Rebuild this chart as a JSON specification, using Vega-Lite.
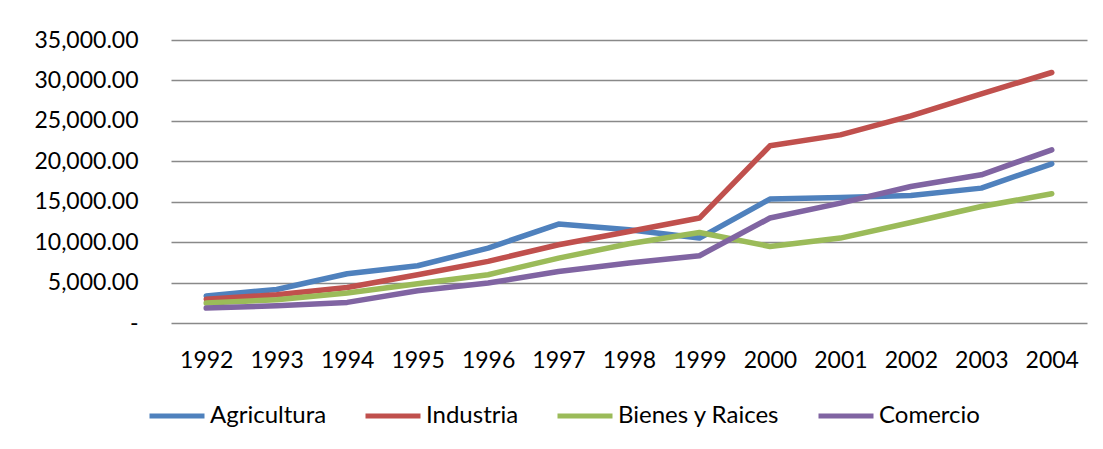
{
  "$schema": "https://vega.github.io/schema/vega-lite/v6.json",
  "autosize": {"type": "none"},
  "padding": {"left": 171, "top": 40, "right": 16, "bottom": 126},
  "width": 916,
  "height": 283,
  "background": "white",
  "config": {
    "view": {"stroke": null},
    "font": "Lato",
    "axis": {"labelFont": "Lato", "labelFontSize": 23, "labelColor": "#000000"},
    "legend": {"labelFont": "Lato", "labelFontSize": 24, "labelColor": "#000000"}
  },
  "data": {
    "values": [
      {"year": "1992", "serie": "Agricultura", "valor": 3350},
      {"year": "1993", "serie": "Agricultura", "valor": 4150},
      {"year": "1994", "serie": "Agricultura", "valor": 6090},
      {"year": "1995", "serie": "Agricultura", "valor": 7080},
      {"year": "1996", "serie": "Agricultura", "valor": 9270},
      {"year": "1997", "serie": "Agricultura", "valor": 12240},
      {"year": "1998", "serie": "Agricultura", "valor": 11530},
      {"year": "1999", "serie": "Agricultura", "valor": 10500},
      {"year": "2000", "serie": "Agricultura", "valor": 15330},
      {"year": "2001", "serie": "Agricultura", "valor": 15520},
      {"year": "2002", "serie": "Agricultura", "valor": 15770},
      {"year": "2003", "serie": "Agricultura", "valor": 16680},
      {"year": "2004", "serie": "Agricultura", "valor": 19690},
      {"year": "1992", "serie": "Industria", "valor": 2950},
      {"year": "1993", "serie": "Industria", "valor": 3500},
      {"year": "1994", "serie": "Industria", "valor": 4400},
      {"year": "1995", "serie": "Industria", "valor": 5970},
      {"year": "1996", "serie": "Industria", "valor": 7620},
      {"year": "1997", "serie": "Industria", "valor": 9680},
      {"year": "1998", "serie": "Industria", "valor": 11320},
      {"year": "1999", "serie": "Industria", "valor": 12980},
      {"year": "2000", "serie": "Industria", "valor": 21910},
      {"year": "2001", "serie": "Industria", "valor": 23270},
      {"year": "2002", "serie": "Industria", "valor": 25620},
      {"year": "2003", "serie": "Industria", "valor": 28340},
      {"year": "2004", "serie": "Industria", "valor": 30980},
      {"year": "1992", "serie": "Bienes y Raices", "valor": 2470},
      {"year": "1993", "serie": "Bienes y Raices", "valor": 2880},
      {"year": "1994", "serie": "Bienes y Raices", "valor": 3700},
      {"year": "1995", "serie": "Bienes y Raices", "valor": 4860},
      {"year": "1996", "serie": "Bienes y Raices", "valor": 5970},
      {"year": "1997", "serie": "Bienes y Raices", "valor": 8030},
      {"year": "1998", "serie": "Bienes y Raices", "valor": 9800},
      {"year": "1999", "serie": "Bienes y Raices", "valor": 11200},
      {"year": "2000", "serie": "Bienes y Raices", "valor": 9470},
      {"year": "2001", "serie": "Bienes y Raices", "valor": 10500},
      {"year": "2002", "serie": "Bienes y Raices", "valor": 12430},
      {"year": "2003", "serie": "Bienes y Raices", "valor": 14410},
      {"year": "2004", "serie": "Bienes y Raices", "valor": 15980},
      {"year": "1992", "serie": "Comercio", "valor": 1850},
      {"year": "1993", "serie": "Comercio", "valor": 2140},
      {"year": "1994", "serie": "Comercio", "valor": 2550},
      {"year": "1995", "serie": "Comercio", "valor": 3990},
      {"year": "1996", "serie": "Comercio", "valor": 4940},
      {"year": "1997", "serie": "Comercio", "valor": 6380},
      {"year": "1998", "serie": "Comercio", "valor": 7420},
      {"year": "1999", "serie": "Comercio", "valor": 8320},
      {"year": "2000", "serie": "Comercio", "valor": 12980},
      {"year": "2001", "serie": "Comercio", "valor": 14830},
      {"year": "2002", "serie": "Comercio", "valor": 16880},
      {"year": "2003", "serie": "Comercio", "valor": 18330},
      {"year": "2004", "serie": "Comercio", "valor": 21420}
    ]
  },
  "mark": {"type": "line", "strokeWidth": 5.5, "strokeCap": "round", "strokeJoin": "round"},
  "encoding": {
    "x": {
      "field": "year", "type": "ordinal",
      "scale": {"type": "point", "padding": 0.5},
      "axis": {"title": null, "labelAngle": 0, "ticks": false, "domain": false, "grid": false, "labelPadding": 26}
    },
    "y": {
      "field": "valor", "type": "quantitative",
      "scale": {"domain": [0, 35000], "nice": false, "zero": true},
      "axis": {
        "title": null,
        "values": [0, 5000, 10000, 15000, 20000, 25000, 30000, 35000],
        "labelExpr": "datum.value == 0 ? '-\u2002' : format(datum.value, ',.2f')",
        "ticks": false, "domain": false, "labelPadding": 33,
        "grid": true, "gridColor": "#898989", "gridWidth": 1.5
      }
    },
    "color": {
      "field": "serie", "type": "nominal",
      "sort": ["Agricultura", "Industria", "Bienes y Raices", "Comercio"],
      "scale": {"domain": ["Agricultura", "Industria", "Bienes y Raices", "Comercio"], "range": ["#4F81BD", "#C0504D", "#9BBB59", "#8064A2"]},
      "legend": {
        "title": null, "orient": "none", "direction": "horizontal",
        "legendX": -24, "legendY": 346,
        "symbolType": "stroke", "symbolSize": 3025, "symbolStrokeWidth": 5,
        "labelOffset": 3, "columnPadding": 28, "padding": 0, "labelLimit": 400
      }
    }
  }
}
